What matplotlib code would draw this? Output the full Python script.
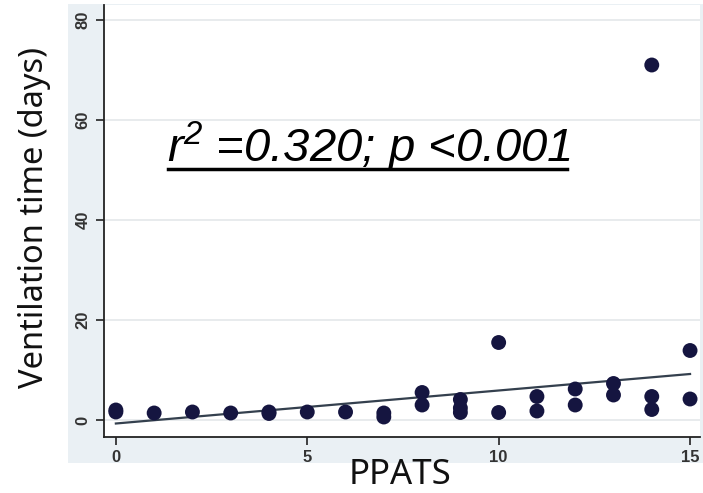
import matplotlib.pyplot as plt
from matplotlib.patches import Rectangle
from matplotlib.lines import Line2D

# data
ppats = [0, 0, 1, 2, 3, 4, 4, 5, 6, 7, 7, 8, 8, 9, 9, 9, 10, 10, 11, 11,
         12, 12, 13, 13, 14, 14, 14, 15, 15]
vent_days = [1.6, 2.0, 1.4, 1.6, 1.4, 1.6, 1.3, 1.6, 1.6, 1.4, 0.6, 5.5, 3.0,
             4.1, 2.4, 1.5, 15.5, 1.5, 4.7, 1.8, 6.2, 3.0, 7.3, 5.0, 4.7, 2.1,
             71.0, 13.9, 4.2]
fit_intercept = -0.7
fit_slope = 0.66
fit_x = [0, 15]
annot = "r$^2$ =0.320; p <0.001"

plt.rcParams['mathtext.fontset'] = 'custom'
plt.rcParams['mathtext.rm'] = 'Liberation Sans:italic'
plt.rcParams['mathtext.it'] = 'Liberation Sans:italic'

fig = plt.figure(figsize=(7.03, 4.93), dpi=100)
fig.patch.set_facecolor('white')
# stata style outer graph region
bg = Rectangle((68 / 703, 1 - 463 / 493), 1 - 68 / 703, (463 - 4) / 493,
               transform=fig.transFigure, facecolor='#eaf0f4',
               edgecolor='none', zorder=-5)
fig.patches.append(bg)

ax = fig.add_axes([104 / 703, 1 - 437 / 493, 596 / 703, (437 - 5) / 493])
ax.set_zorder(1)
ax.set_facecolor('white')
ax.set_xlim(-0.31, 15.26)
ax.set_ylim(-3.4, 83)

ax.set_yticks([0, 20, 40, 60, 80])
ax.set_xticks([0, 5, 10, 15])
ax.yaxis.grid(True, color='#e4e8ea', linewidth=1.2)
ax.set_axisbelow(True)
for s in ['top', 'right']:
    ax.spines[s].set_visible(False)
for s in ['left', 'bottom']:
    ax.spines[s].set_linewidth(1.3)
    ax.spines[s].set_color('#222222')

tickfont = {'family': ['Liberation Sans Narrow', 'Liberation Sans'], 'weight': 'bold', 'size': 12}
ax.set_yticklabels([str(t) for t in [0, 20, 40, 60, 80]], rotation=90, va='center', **tickfont)
ax.set_xticklabels([str(t) for t in [0, 5, 10, 15]], **tickfont)
ax.tick_params(direction='out', length=6, width=1.2, color='#222222', labelcolor='#333333')

ax.plot(fit_x, [fit_intercept + fit_slope * v for v in fit_x], color='#34404e', linewidth=1.6, zorder=2)
ax.scatter(ppats, vent_days, s=115, color='#151540', edgecolors='none', zorder=3)

fig.text(35 / 703, 1 - 217 / 493, "Ventilation time (days)", rotation=90, ha='center', va='center',
         fontsize=23.5, family='Noto Sans', color='#111111', zorder=5)
fig.text(400 / 703, 1 - 484 / 493, "PPATS", ha='center', va='baseline',
         fontsize=25, family='Noto Sans', color='#111111', zorder=5)

t = fig.text(369 / 703, 1 - 162 / 493, annot, ha='center', va='baseline', fontsize=34,
             family='Liberation Sans', style='italic', color='black', zorder=5)
fig.canvas.draw()
bb = t.get_window_extent(fig.canvas.get_renderer())
uy = 1 - 169 / 493
fig.lines.append(Line2D([bb.x0 / 703 + 0.002, bb.x1 / 703 - 0.006], [uy, uy],
                        transform=fig.transFigure, color='black', linewidth=2.5, zorder=5))

fig.savefig('out.png', dpi=100)
